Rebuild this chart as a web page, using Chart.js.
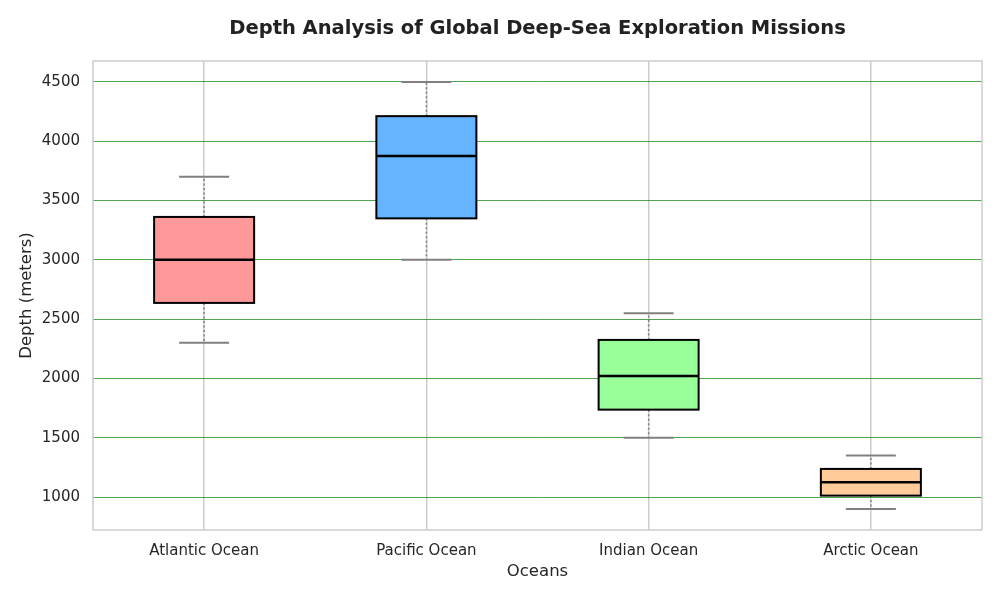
<!DOCTYPE html>
<html>
<head>
<meta charset="utf-8">
<script src="https://cdn.jsdelivr.net/npm/chart.js@4"></script>
<style>
  html, body { margin: 0; padding: 0; background: #ffffff; }
  #wrap { width: 1000px; height: 600px; position: relative; }
</style>
</head>
<body>
<div id="wrap"><canvas id="c" width="1000" height="600"></canvas></div>
<script>
const categories = ['Atlantic Ocean', 'Pacific Ocean', 'Indian Ocean', 'Arctic Ocean'];
const whiskerLow  = [2300, 3000, 1500, 900];
const q1Values    = [2637, 3350, 1737, 1012];
const medians     = [3000, 3875, 2020, 1125];
const q3Values    = [3362, 4212, 2325, 1237];
const whiskerHigh = [3700, 4500, 2550, 1350];
const boxColors   = ['#ff9999', '#66b3ff', '#99ff99', '#ffcc99'];
const yTicks      = [1000, 1500, 2000, 2500, 3000, 3500, 4000, 4500];

const FONT = "'DejaVu Sans', sans-serif";
const TEXT = '#262626';

const boxPlugin = {
  id: 'boxExtras',
  beforeDatasetsDraw(chart) {
    const { ctx, scales: { x, y } } = chart;
    const meta = chart.getDatasetMeta(0);
    ctx.save();
    categories.forEach((c, i) => {
      const bar = meta.data[i];
      const cx = x.getPixelForValue(i);
      const halfCap = bar.width / 4;
      const yLo = y.getPixelForValue(whiskerLow[i]);
      const yHi = y.getPixelForValue(whiskerHigh[i]);
      const yQ1 = y.getPixelForValue(q1Values[i]);
      const yQ3 = y.getPixelForValue(q3Values[i]);
      ctx.strokeStyle = '#808080';
      ctx.lineWidth = 1.5;
      ctx.setLineDash([2, 2.5]);
      ctx.beginPath();
      ctx.moveTo(cx, yQ3); ctx.lineTo(cx, yHi);
      ctx.moveTo(cx, yQ1); ctx.lineTo(cx, yLo);
      ctx.stroke();
      ctx.setLineDash([]);
      ctx.lineWidth = 2;
      ctx.beginPath();
      ctx.moveTo(cx - halfCap, yHi); ctx.lineTo(cx + halfCap, yHi);
      ctx.moveTo(cx - halfCap, yLo); ctx.lineTo(cx + halfCap, yLo);
      ctx.stroke();
    });
    ctx.restore();
  },
  afterDatasetsDraw(chart) {
    const { ctx, chartArea, scales: { x, y } } = chart;
    const meta = chart.getDatasetMeta(0);
    ctx.save();
    categories.forEach((c, i) => {
      const bar = meta.data[i];
      const cx = x.getPixelForValue(i);
      const half = bar.width / 2;
      const yQ1 = y.getPixelForValue(q1Values[i]);
      const yQ3 = y.getPixelForValue(q3Values[i]);
      const ym = y.getPixelForValue(medians[i]);
      ctx.strokeStyle = '#000000';
      ctx.lineWidth = 2;
      ctx.strokeRect(cx - half, yQ3, half * 2, yQ1 - yQ3);
      ctx.lineWidth = 2.5;
      ctx.beginPath();
      ctx.moveTo(cx - half, ym); ctx.lineTo(cx + half, ym);
      ctx.stroke();
    });
    ctx.strokeStyle = '#cccccc';
    ctx.lineWidth = 1.5;
    ctx.strokeRect(chartArea.left, chartArea.top, chartArea.right - chartArea.left, chartArea.bottom - chartArea.top);
    ctx.restore();
  }
};

new Chart(document.getElementById('c'), {
  type: 'bar',
  data: {
    labels: categories,
    datasets: [{
      data: categories.map((c, i) => [q1Values[i], q3Values[i]]),
      backgroundColor: boxColors,
      borderWidth: 0,
      categoryPercentage: 0.45,
      barPercentage: 1.0
    }]
  },
  options: {
    responsive: false,
    animation: false,
    layout: { padding: { left: 0, right: 18, top: 0, bottom: 0 } },
    plugins: {
      legend: { display: false },
      tooltip: { enabled: false },
      title: {
        display: true,
        text: 'Depth Analysis of Global Deep-Sea Exploration Missions',
        fullSize: false,
        color: '#222222',
        font: { family: FONT, size: 19.5, weight: 'bold' },
        padding: { top: 17, bottom: 20.6 }
      }
    },
    scales: {
      x: {
        offset: true,
        grid: { offset: false, color: '#cccccc', lineWidth: 1.5, drawTicks: false },
        border: { display: false },
        ticks: { color: TEXT, font: { family: FONT, size: 15 }, padding: 12 },
        title: { display: true, text: 'Oceans', color: TEXT, font: { family: FONT, size: 16.5 }, padding: { top: 4, bottom: 18 } },
        afterFit(axis) { axis.height = 70; }
      },
      y: {
        min: 722,
        max: 4677,
        afterBuildTicks(axis) { axis.ticks = yTicks.map(v => ({ value: v })); },
        grid: { color: 'rgba(0,128,0,0.7)', lineWidth: 1, drawTicks: false },
        border: { display: false },
        ticks: { color: TEXT, font: { family: FONT, size: 15 }, padding: 13, callback: (v) => String(v) },
        title: { display: true, text: 'Depth (meters)', color: TEXT, font: { family: FONT, size: 16.5 }, padding: { top: 17, bottom: 0 } },
        afterFit(axis) { axis.width = 93; }
      }
    }
  },
  plugins: [boxPlugin]
});
</script>
</body>
</html>
